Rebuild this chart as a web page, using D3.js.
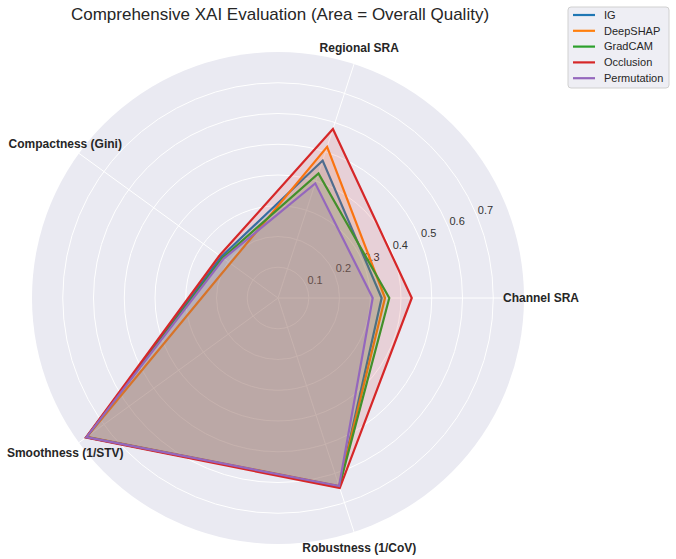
<!DOCTYPE html>
<html>
<head>
<meta charset="utf-8">
<script src="https://cdn.jsdelivr.net/npm/d3@7"></script>
<style>
  body { margin: 0; background: #ffffff; }
  svg { font-family: "Liberation Sans", Arial, sans-serif; }
</style>
</head>
<body>
<div id="chart"></div>
<script>
// radar axes, in drawing order (counter-clockwise from the right)
var categories = ["Channel SRA", "Regional SRA", "Compactness (Gini)", "Smoothness (1/STV)", "Robustness (1/CoV)"];
var methods = ["IG", "DeepSHAP", "GradCAM", "Occlusion", "Permutation"];
var colors = ["#1f77b4", "#ff7f0e", "#2ca02c", "#d62728", "#9467bd"];

// values per method, same order as categories
var igValues = [0.337, 0.470, 0.228, 0.770, 0.645];
var deepshapValues = [0.348, 0.517, 0.192, 0.768, 0.643];
var gradcamValues = [0.362, 0.426, 0.222, 0.770, 0.645];
var occlusionValues = [0.435, 0.578, 0.235, 0.772, 0.650];
var permutationValues = [0.308, 0.392, 0.218, 0.770, 0.643];

var tickValues = [0.1, 0.2, 0.3, 0.4, 0.5, 0.6, 0.7];
var rMax = 0.8;

var series = [igValues, deepshapValues, gradcamValues, occlusionValues, permutationValues];

var width = 676, height = 559;
var cx = 278, cy = 298, R = 246;

var svg = d3.select("#chart").append("svg")
  .attr("width", width)
  .attr("height", height);

var r = d3.scaleLinear().domain([0, rMax]).range([0, R]);

// math angle (radians, ccw from +x) for axis i
function theta(i) { return i * 2 * Math.PI / categories.length; }
// d3.lineRadial angle: clockwise from 12 o'clock
function radialAngle(i) { return Math.PI / 2 - theta(i); }

var g = svg.append("g").attr("transform", "translate(" + cx + "," + cy + ")");

// background disc
g.append("circle").attr("r", R).attr("fill", "#eaeaf2");

// grid circles
g.selectAll("circle.grid")
  .data(tickValues)
  .enter().append("circle")
    .attr("class", "grid")
    .attr("r", function(d) { return r(d); })
    .attr("fill", "none")
    .attr("stroke", "#ffffff")
    .attr("stroke-width", 1);

// spokes
g.selectAll("line.spoke")
  .data(categories)
  .enter().append("line")
    .attr("class", "spoke")
    .attr("x1", 0).attr("y1", 0)
    .attr("x2", function(d, i) { return R * Math.cos(theta(i)); })
    .attr("y2", function(d, i) { return -R * Math.sin(theta(i)); })
    .attr("stroke", "#ffffff")
    .attr("stroke-width", 1);

// tick labels at 22.5 degrees
var labelAngle = 22.5 * Math.PI / 180;
g.selectAll("text.tick")
  .data(tickValues)
  .enter().append("text")
    .attr("class", "tick")
    .attr("x", function(d) { return r(d) * Math.cos(labelAngle) + 1; })
    .attr("y", function(d) { return -r(d) * Math.sin(labelAngle) - 2; })
    .attr("font-size", 11)
    .attr("fill", "#333333")
    .text(function(d) { return d.toFixed(1); });

var line = d3.lineRadial()
  .angle(function(d, i) { return radialAngle(i); })
  .radius(function(d) { return r(d); })
  .curve(d3.curveLinearClosed);

series.forEach(function(vals, k) {
  g.append("path")
    .attr("d", line(vals))
    .attr("fill", colors[k])
    .attr("fill-opacity", 0.13)
    .attr("stroke", "none");
  g.append("path")
    .attr("d", line(vals))
    .attr("fill", "none")
    .attr("stroke", colors[k])
    .attr("stroke-width", 2.2)
    .attr("stroke-linejoin", "miter");
});

// axis labels
var labelR = 263;
g.selectAll("text.axisLabel")
  .data(categories)
  .enter().append("text")
    .attr("class", "axisLabel")
    .attr("x", function(d, i) { return labelR * Math.cos(theta(i)); })
    .attr("y", function(d, i) { return -labelR * Math.sin(theta(i)); })
    .attr("dy", "0.35em")
    .attr("text-anchor", "middle")
    .attr("font-size", 12)
    .attr("font-weight", "bold")
    .attr("fill", "#262626")
    .text(function(d) { return d; });

// title
svg.append("text")
  .attr("x", 280)
  .attr("y", 20)
  .attr("text-anchor", "middle")
  .attr("font-size", 17)
  .attr("fill", "#262626")
  .text("Comprehensive XAI Evaluation (Area = Overall Quality)");

// legend
var legend = svg.append("g").attr("transform", "translate(568,7)");
legend.append("rect")
  .attr("width", 101).attr("height", 81)
  .attr("rx", 3)
  .attr("fill", "#eeeef4")
  .attr("stroke", "#d0d0d0")
  .attr("stroke-width", 1);

var items = legend.selectAll("g.item")
  .data(methods)
  .enter().append("g")
    .attr("class", "item")
    .attr("transform", function(d, i) { return "translate(0," + (8 + i * 15.8) + ")"; });

items.append("line")
  .attr("x1", 5).attr("x2", 27)
  .attr("y1", 0).attr("y2", 0)
  .attr("stroke", function(d, i) { return colors[i]; })
  .attr("stroke-width", 2.2);

items.append("text")
  .attr("x", 36)
  .attr("dy", "0.35em")
  .attr("font-size", 11)
  .attr("fill", "#262626")
  .text(function(d) { return d; });
</script>
</body>
</html>
